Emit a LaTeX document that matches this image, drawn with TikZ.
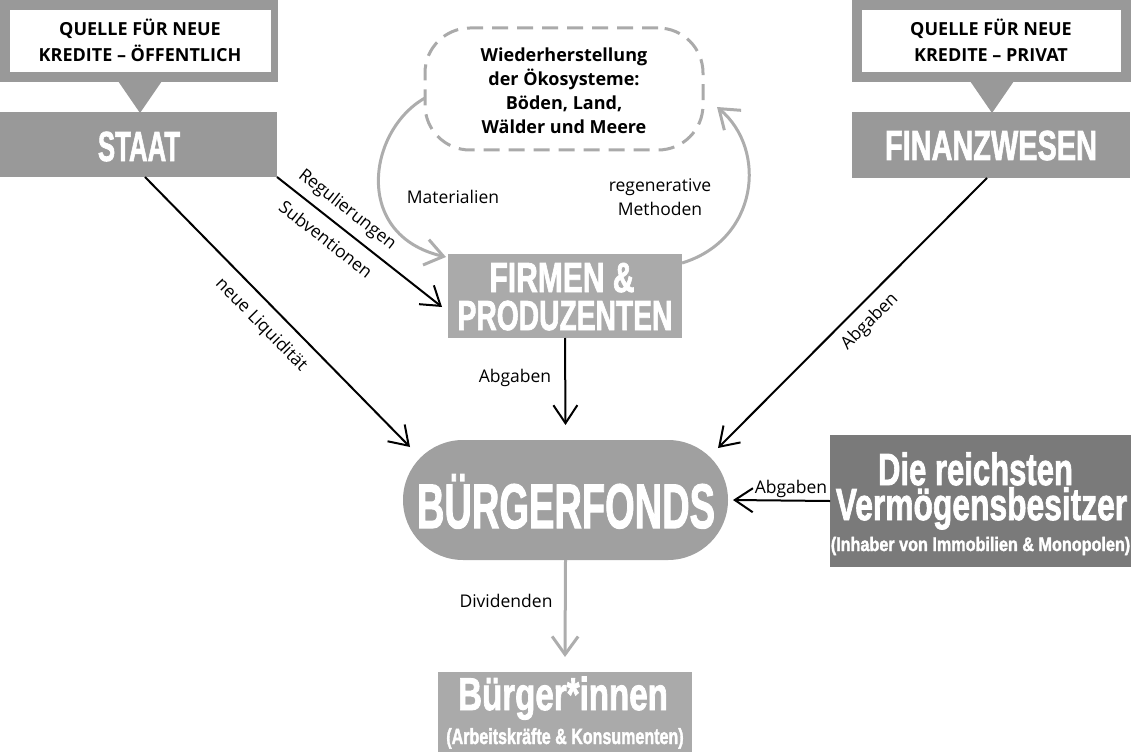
\documentclass[tikz,border=0pt]{standalone}
\usepackage{fontspec}
\usepackage{graphicx}
\usetikzlibrary{arrows.meta}
\setmainfont{Open Sans}
\newfontfamily\headfont[BoldFeatures={FakeBold=2}]{Liberation Sans}
\newcommand{\hs}[3]{{\headfont\bfseries\fontsize{#1}{#1}\selectfont\scalebox{#2}[1]{#3}}}
\definecolor{gA}{HTML}{999999}
\definecolor{gB}{HTML}{AAAAAA}
\definecolor{gC}{HTML}{A0A0A0}
\definecolor{gD}{HTML}{7A7A7A}
\definecolor{gL}{HTML}{ADADAD}
\begin{document}
\begin{tikzpicture}[x=1pt,y=-1pt,
  box/.style={inner sep=0pt, outer sep=0pt, draw=none},
  head/.style={anchor=base, inner sep=0pt, text=white},
  calltxt/.style={anchor=base, inner sep=0pt, font=\bfseries\fontsize{18}{22}\selectfont},
  ecotxt/.style={anchor=base, inner sep=0pt, font=\bfseries\fontsize{18}{22}\selectfont},
  lbl/.style={inner sep=0pt, font=\fontsize{17.5}{20}\selectfont},
  arr/.style={draw=black, line width=2pt, -{Straight Barb[length=18pt,width=24pt]}},
  garr/.style={draw=gL, line width=3pt, -{Straight Barb[length=18pt,width=26pt]}}
]
\useasboundingbox (0,0) rectangle (1131,754);

% left callout
\node[box, fill=gA, minimum width=278pt, minimum height=82pt] (lcall) at (139,41) {};
\node[box, fill=white, minimum width=261pt, minimum height=62pt] (lcallin) at (140.5,41) {};
\fill[gA] (118,81) -- (162,81) -- (140,113) -- cycle;
\node[calltxt] (lc1) at (140,36) {QUELLE FÜR NEUE};
\node[calltxt] (lc2) at (140,62) {KREDITE – ÖFFENTLICH};

% right callout
\node[box, fill=gA, minimum width=279pt, minimum height=82pt] (rcall) at (991.5,41) {};
\node[box, fill=white, minimum width=259pt, minimum height=62pt] (rcallin) at (991.5,41) {};
\fill[gA] (970,81) -- (1014,81) -- (992,113) -- cycle;
\node[calltxt] (rc1) at (991,36) {QUELLE FÜR NEUE};
\node[calltxt] (rc2) at (991,62) {KREDITE – PRIVAT};

% STAAT
\node[box, fill=gA, minimum width=277pt, minimum height=65pt] (staat) at (138.5,144.5) {};
\node[head] (tstaat) at (139,161) {\hs{42}{0.614}{STAAT}};

% FINANZWESEN
\node[box, fill=gA, minimum width=278pt, minimum height=66pt] (fin) at (991,145) {};
\node[head] (tfin) at (991,160) {\hs{42}{0.688}{FINANZWESEN}};

% eco box
\node[box, draw=gB, line width=3pt, dash pattern=on 16pt off 9pt, rounded corners=45pt,
      minimum width=278pt, minimum height=122pt] (eco) at (564,89) {};
\node[ecotxt] (e1) at (564,62) {Wiederherstellung};
\node[ecotxt] (e2) at (564,86) {der Ökosysteme:};
\node[ecotxt] (e3) at (564,110) {Böden, Land,};
\node[ecotxt] (e4) at (564,134) {Wälder und Meere};

% FIRMEN
\node[box, fill=gB, minimum width=234pt, minimum height=84pt] (firmen) at (565,296) {};
\node[head] (tf1) at (562,292) {\hs{42}{0.714}{FIRMEN \&}};
\node[head] (tf2) at (565,330) {\hs{42}{0.672}{PRODUZENTEN}};

% BUERGERFONDS
\node[box, fill=gC, rounded corners=60pt, minimum width=325pt, minimum height=120pt] (fonds) at (565.5,500) {};
\node[head] (tfonds) at (566,528) {\hs{63}{0.604}{BÜRGERFONDS}};

% reichste
\node[box, fill=gD, minimum width=301pt, minimum height=132pt] (reich) at (980.5,501) {};
\node[head] (tr1) at (975.5,485) {\hs{45}{0.69}{Die reichsten}};
\node[head] (tr2) at (981.5,520) {\hs{45}{0.706}{Vermögensbesitzer}};
\node[head] (tr3) at (980.5,551) {\hs{19.5}{0.83}{(Inhaber von Immobilien \& Monopolen)}};

% Buerger*innen
\node[box, fill=gB, minimum width=254pt, minimum height=80pt] (buerger) at (565,712) {};
\node[head] (tb1) at (563,710) {\hs{46}{0.72}{Bürger*innen}};
\node[head] (tb2) at (565,744) {\hs{22}{0.73}{(Arbeitskräfte \& Konsumenten)}};

% gray loops
\draw[garr] ([yshift=-9pt]eco.west) .. controls (368,130) and (352,235) .. ([xshift=-2pt,yshift=39pt]firmen.west);
\draw[garr] ([yshift=33pt]firmen.east) .. controls (758,240) and (768,150) .. ([xshift=14pt,yshift=-18pt]eco.east);
\node[lbl, anchor=base] (lmat) at (453,203) {Materialien};
\node[lbl, anchor=base] (lreg1) at (660,191) {regenerative};
\node[lbl, anchor=base] (lreg2) at (660,215) {Methoden};

% black arrows
\coordinate (tReg) at (442,307);
\coordinate (tLiq) at (410,447);
\coordinate (tFin) at (718,448);
\draw[arr] (staat.south east) -- (tReg);
\draw[arr] ([xshift=6.5pt]staat.south) -- (tLiq);
\draw[arr] ([xshift=-4pt]fin.south) -- (tFin);
\draw[arr] (firmen.south) -- ([yshift=15pt]fonds.north);
\draw[arr] (reich.west) -- ([xshift=5pt]fonds.east);
\draw[garr] (fonds.south) -- ([yshift=15pt]buerger.north);

\node[lbl, rotate=-38] (lregu) at (347,210) {Regulierungen};
\node[lbl, rotate=-38] (lsubv) at (326,239) {Subventionen};
\node[lbl, rotate=-45.5] (lliq) at (261,325) {neue Liquidität};
\node[lbl, rotate=45] (labg1) at (870,322) {Abgaben};
\node[lbl, anchor=base] (labg2) at (515,382) {Abgaben};
\node[lbl, anchor=base] (labg3) at (791,493) {Abgaben};
\node[lbl, anchor=base] (ldiv) at (506,607) {Dividenden};
\end{tikzpicture}
\end{document}
